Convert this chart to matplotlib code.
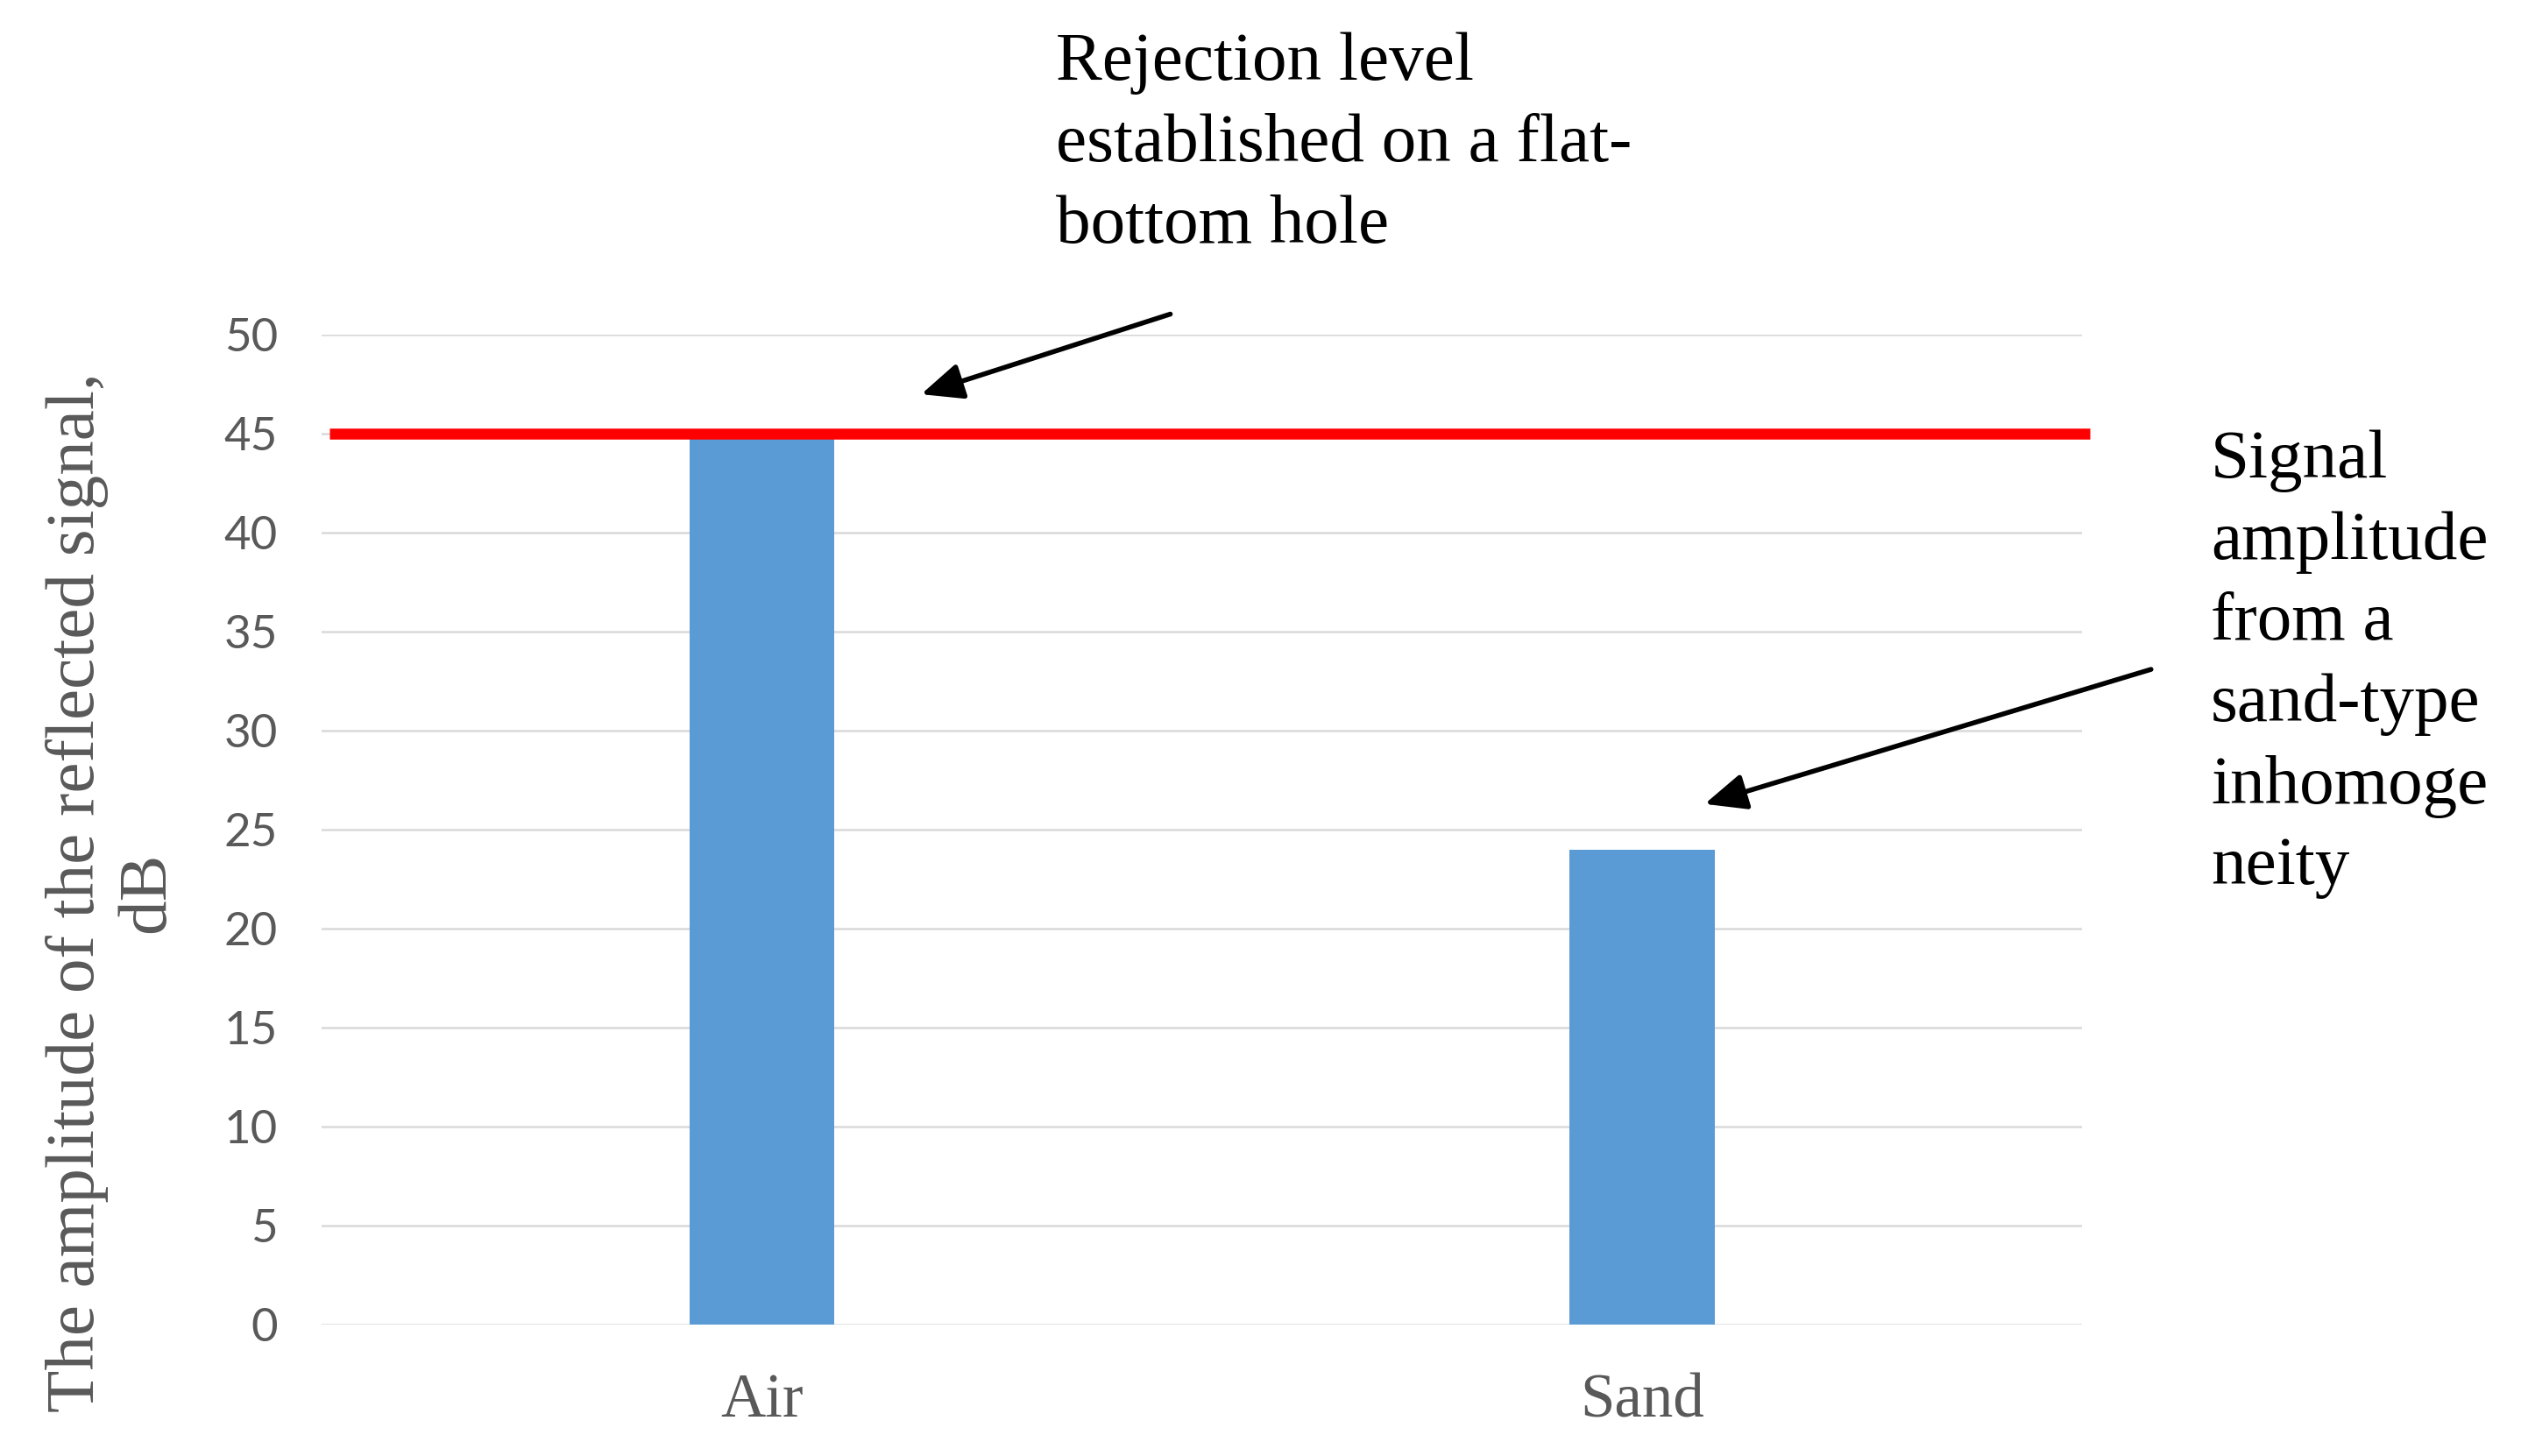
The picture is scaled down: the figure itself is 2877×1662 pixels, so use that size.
import matplotlib
matplotlib.use("Agg")
import matplotlib.pyplot as plt

# data
categories = ["Air", "Sand"]
amplitudes = [45, 24]
rejection_level = 45
y_ticks = [0, 5, 10, 15, 20, 25, 30, 35, 40, 45, 50]

# arrow ends in data units (tip, tail)
arrow_top = ((0.181, 47.0), (0.464, 51.05))
arrow_right = ((1.071, 26.3), (1.578, 33.1))

serif = "Liberation Serif"
gray = "#595959"

fig = plt.figure(figsize=(28.77, 16.62), dpi=100)
ax = fig.add_axes([0.1276, 0.0903, 0.6984, 0.6797])

x = range(len(categories))
ax.bar(x, amplitudes, width=0.165, color="#5b9bd5", zorder=2)
# red rejection line sits a touch to the right of the plot area
ax.hlines(rejection_level, -0.491, 1.509, color="#ff0000", linewidth=9,
          zorder=3, clip_on=False)

ax.set_xlim(-0.5, 1.5)
ax.set_ylim(0, 50)
ax.set_yticks(y_ticks)
ax.set_xticks(list(x))
ax.set_xticklabels(categories, fontfamily=serif, fontsize=51, color=gray)
ax.set_yticklabels([str(t) for t in y_ticks], fontfamily="Lato", fontsize=38, color=gray)
ax.tick_params(axis="y", length=0, pad=36)
ax.tick_params(axis="x", length=0, pad=40)

ax.grid(axis="y", color="#d9d9d9", linewidth=1.8, zorder=0)
ax.set_axisbelow(True)
for s in ax.spines.values():
    s.set_visible(False)

# y-axis title
fig.text(0.0445, 0.387, "The amplitude of the reflected signal,\ndB",
         rotation=90, ha="center", va="center", multialignment="center",
         fontfamily=serif, fontsize=57, color=gray, linespacing=1.15)

# annotations
fig.text(0.4188, 0.978, "Rejection level\nestablished on a flat-\nbottom hole",
         ha="left", va="top", fontfamily=serif, fontsize=57, color="black",
         linespacing=1.39)
fig.text(0.877, 0.705, "Signal\namplitude\nfrom a\nsand-type\ninhomoge\nneity",
         ha="left", va="top", fontfamily=serif, fontsize=57, color="black",
         linespacing=1.39)

arrow_props = dict(arrowstyle="-|>,head_length=0.8,head_width=0.35",
                   mutation_scale=36, color="black", linewidth=4,
                   shrinkA=0, shrinkB=0)
for tip, tail in (arrow_top, arrow_right):
    ax.annotate("", xy=tip, xytext=tail, arrowprops=arrow_props,
                annotation_clip=False)

fig.savefig("out.png", dpi=100)
